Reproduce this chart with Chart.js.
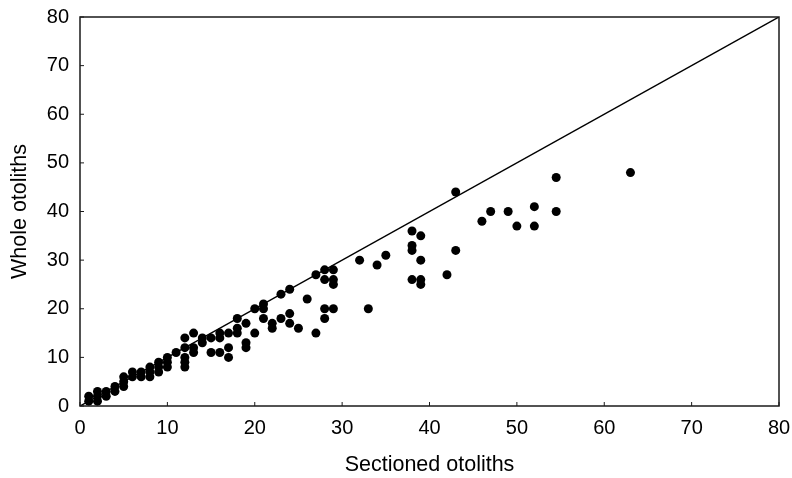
<!DOCTYPE html>
<html>
<head>
<meta charset="utf-8">
<script src="https://cdn.jsdelivr.net/npm/chart.js@4/dist/chart.umd.min.js"></script>
<style>
   html, body { margin: 0; padding: 0; background: #ffffff; }
   #wrapper { width: 792px; height: 478px; }
</style>
</head>
<body>
<div id="wrapper"><canvas id="otolith-chart" width="792" height="478"></canvas></div>
<script>
// Age readings: sectioned otoliths (x) vs whole otoliths (y)
const sectionedAges = [
   1, 1, 2, 2, 2, 3, 3, 4, 4, 5, 5, 5, 6, 6, 7, 7, 8, 8, 8, 9, 9, 9, 10, 10, 10, 11,
   12, 12, 12, 12, 12, 13, 13, 13, 14, 14, 15, 15, 16, 16, 16, 17, 17, 17, 18, 18, 18,
   19, 19, 19, 20, 20, 21, 21, 21, 22, 22, 23, 23, 24, 24, 24, 25, 26, 27, 27,
   28, 28, 28, 28, 29, 29, 29, 29, 32, 33, 34, 35, 38, 38, 38, 38, 39, 39, 39, 39,
   42, 43, 43, 46, 47, 49, 50, 52, 52, 54.5, 54.5, 63
];
const wholeAges = [
   1, 2, 1, 2, 3, 2, 3, 3, 4, 4, 5, 6, 6, 7, 6, 7, 6, 7, 8, 7, 8, 9, 8, 9, 10, 11,
   8, 9, 10, 12, 14, 11, 12, 15, 13, 14, 11, 14, 11, 14, 15, 10, 12, 15, 15, 16, 18,
   12, 13, 17, 15, 20, 18, 20, 21, 16, 17, 18, 23, 17, 19, 24, 16, 22, 15, 27,
   18, 20, 26, 28, 20, 25, 26, 28, 30, 20, 29, 31, 26, 32, 33, 36, 25, 26, 30, 35,
   27, 32, 44, 38, 40, 40, 37, 37, 41, 40, 47, 48
];
const lineOfEquality = [0, 80];
const tickValues = [0, 10, 20, 30, 40, 50, 60, 70, 80];

const chartCanvas = document.getElementById('otolith-chart');

// draws the box around the plot and the small inward ticks
const frameAndTicks = {
   id: 'frameAndTicks',
   afterDraw(chart) {
      const ctx = chart.ctx;
      const area = chart.chartArea;
      const xScale = chart.scales.x;
      const yScale = chart.scales.y;
      ctx.save();
      ctx.strokeStyle = '#1a1a1a';
      ctx.lineWidth = 1.5;
      ctx.strokeRect(area.left, area.top, area.right - area.left, area.bottom - area.top);
      ctx.lineWidth = 1;
      for (let v of tickValues) {
         let px = xScale.getPixelForValue(v);
         let py = yScale.getPixelForValue(v);
         ctx.beginPath();
         ctx.moveTo(px, area.bottom);
         ctx.lineTo(px, area.bottom - 4);
         ctx.moveTo(area.left, py);
         ctx.lineTo(area.left + 4, py);
         ctx.stroke();
      }
      ctx.restore();
   }
};

function createChart(element) {
   let points = sectionedAges.map((x, i) => ({ x: x, y: wholeAges[i] }));
   let line = lineOfEquality.map(v => ({ x: v, y: v }));

   return new Chart(element, {
      type: 'scatter',
      data: {
         datasets: [{
            type: 'line',
            data: line,
            borderColor: '#000000',
            borderWidth: 1.5,
            pointRadius: 0,
            fill: false
         }, {
            data: points,
            backgroundColor: '#000000',
            borderWidth: 0,
            pointRadius: 4.5,
            pointHoverRadius: 4.5,
            clip: false
         }]
      },
      options: {
         responsive: false,
         animation: false,
         layout: {
            padding: { top: 17, right: 13, left: 0, bottom: 0 }
         },
         scales: {
            x: {
               type: 'linear',
               min: 0,
               max: 80,
               afterFit: (scale) => {
                  scale.height = 72;
                  scale.paddingLeft = 0;
                  scale.paddingRight = 0;
               },
               ticks: {
                  stepSize: 10,
                  padding: 2,
                  color: '#000000',
                  font: { family: 'Liberation Sans', size: 20 }
               },
               grid: { display: false },
               border: { display: false },
               title: {
                  display: true,
                  text: 'Sectioned otoliths',
                  color: '#000000',
                  padding: { top: 4, bottom: 0 },
                  font: { family: 'Liberation Sans', size: 21.5 }
               }
            },
            y: {
               type: 'linear',
               min: 0,
               max: 80,
               afterFit: (scale) => {
                  scale.width = 80;
                  scale.paddingTop = 0;
                  scale.paddingBottom = 0;
               },
               ticks: {
                  stepSize: 10,
                  padding: 3,
                  color: '#000000',
                  font: { family: 'Liberation Sans', size: 20 }
               },
               grid: { display: false },
               border: { display: false },
               title: {
                  display: true,
                  text: 'Whole otoliths',
                  color: '#000000',
                  padding: { top: 7, bottom: 4 },
                  font: { family: 'Liberation Sans', size: 21.5 }
               }
            }
         },
         plugins: {
            legend: { display: false },
            tooltip: { enabled: false }
         }
      },
      plugins: [frameAndTicks]
   });
}

createChart(chartCanvas);
</script>
</body>
</html>
